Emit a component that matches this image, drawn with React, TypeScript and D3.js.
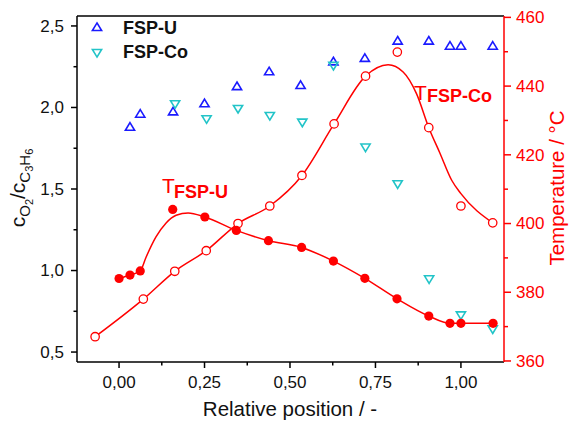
import React from "react";
import * as d3 from "d3";

// FSP-U ratio (blue, up triangles)
const fspUX = [0.032, 0.062, 0.158, 0.25, 0.345, 0.439, 0.531, 0.627, 0.719, 0.815, 0.906, 0.968, 1.0, 1.093];
const fspUY = [1.876, 1.956, 1.97, 2.02, 2.125, 2.216, 2.132, 2.277, 2.298, 2.404, 2.404, 2.373, 2.373, 2.373];
// FSP-Co ratio (cyan, down triangles)
const fspCoX = [0.164, 0.256, 0.348, 0.441, 0.536, 0.627, 0.721, 0.815, 0.907, 1.0, 1.093];
const fspCoY = [2.026, 1.934, 1.997, 1.954, 1.913, 2.261, 1.76, 1.535, 0.952, 0.731, 0.645];
// Temperature FSP-U (filled red circles)
const tUX = [0.0, 0.032, 0.062, 0.157, 0.251, 0.343, 0.437, 0.534, 0.627, 0.719, 0.813, 0.906, 0.968, 1.0, 1.094];
const tUT = [384.0, 385.0, 386.2, 404.1, 401.9, 398.0, 395.0, 393.05, 389.07, 384.04, 378.1, 373.08, 370.96, 370.96, 370.96];
// Fitted curve for FSP-U temperature
const tUCurveX = [0.0, 0.032, 0.062, 0.079, 0.108, 0.137, 0.167, 0.202, 0.251, 0.343, 0.437, 0.534, 0.627, 0.719, 0.813, 0.906, 0.968, 1.0, 1.094];
const tUCurveT = [384.0, 385.0, 386.2, 390.2, 396.1, 400.1, 402.4, 403.1, 401.9, 398.0, 395.0, 393.05, 389.07, 384.04, 378.1, 373.08, 370.96, 370.96, 370.96];
// Temperature FSP-Co (open red circles)
const tCoX = [-0.07, 0.071, 0.163, 0.255, 0.348, 0.441, 0.535, 0.629, 0.721, 0.814, 0.906, 1.0, 1.093];
const tCoT = [367.06, 378.0, 386.1, 392.1, 400.0, 405.1, 414.0, 429.0, 442.9, 449.9, 427.9, 405.1, 400.2];
// Fitted curve for FSP-Co temperature
const tCoCurveX = [-0.07, 0.071, 0.163, 0.255, 0.348, 0.441, 0.535, 0.629, 0.721, 0.787, 0.831, 0.87, 0.906, 0.939, 0.973, 1.0, 1.093];
const tCoCurveT = [367.06, 378.0, 386.1, 392.1, 400.0, 405.1, 414.0, 429.0, 442.9, 446.2, 444.1, 437.8, 427.9, 420.4, 412.6, 408.7, 400.2];

const xMajor = [0, 0.25, 0.5, 0.75, 1.0];
const xMinor = [0.125, 0.375, 0.625, 0.875];
const yLMajor = [0.5, 1.0, 1.5, 2.0, 2.5];
const yLMinor = [0.75, 1.25, 1.75, 2.25];
const yRMajor = [360, 380, 400, 420, 440, 460];
const yRMinor = [370, 390, 410, 430, 450];

const RED = "#ff0000";
const BLUE = "#1a1aff";
const CYAN = "#22c4c8";
const INK = "#111";
const FONT = "Arial, 'Liberation Sans', sans-serif";

const L = 77, R = 504, T = 16, B = 362;

const fmt = (v: number, d: number) => v.toFixed(d).replace(".", ",");

function triUp(cx: number, cy: number) {
  const hw = 4.6, h = 7.6;
  return `M${cx},${cy - (2 * h) / 3}L${cx + hw},${cy + h / 3}L${cx - hw},${cy + h / 3}Z`;
}
function triDown(cx: number, cy: number) {
  const hw = 4.6, h = 7.6;
  return `M${cx},${cy + (2 * h) / 3}L${cx + hw},${cy - h / 3}L${cx - hw},${cy - h / 3}Z`;
}

export default function App() {
  const x = d3.scaleLinear().domain([-0.123, 1.126]).range([L, R]);
  const yL = d3.scaleLinear().domain([0.439, 2.561]).range([B, T]);
  const yR = d3.scaleLinear().domain([359.7, 460.4]).range([B, T]);

  const line = d3
    .line<[number, number]>()
    .x((d) => x(d[0]))
    .y((d) => yR(d[1]))
    .curve(d3.curveMonotoneX);

  const tUPath = line(tUCurveX.map((v, i) => [v, tUCurveT[i]]) as [number, number][]) || "";
  const tCoPath = line(tCoCurveX.map((v, i) => [v, tCoCurveT[i]]) as [number, number][]) || "";

  return (
    <svg
      width={572}
      height={421}
      style={{ position: "absolute", left: 0, top: 0, background: "#fff" }}
      fontFamily={FONT}
    >
      <rect x={0} y={0} width={572} height={421} fill="#fff" />
      {/* curves */}
      <path d={tCoPath} fill="none" stroke={RED} strokeWidth={1.5} />
      <path d={tUPath} fill="none" stroke={RED} strokeWidth={1.5} />

      {/* FSP-U triangles */}
      {fspUX.map((v, i) => (
        <path key={"u" + i} d={triUp(x(v), yL(fspUY[i]))} fill="none" stroke={BLUE} strokeWidth={1.6} />
      ))}
      {fspCoX.map((v, i) => (
        <path key={"c" + i} d={triDown(x(v), yL(fspCoY[i]))} fill="none" stroke={CYAN} strokeWidth={1.6} />
      ))}

      {/* temperatures */}
      {tCoX.map((v, i) => (
        <circle key={"o" + i} cx={x(v)} cy={yR(tCoT[i])} r={4.2} fill="#fff" stroke={RED} strokeWidth={1.3} />
      ))}
      {tUX.map((v, i) => (
        <circle key={"f" + i} cx={x(v)} cy={yR(tUT[i])} r={4.6} fill={RED} />
      ))}

      {/* frame */}
      <line x1={L} x2={R} y1={T} y2={T} stroke="#000" strokeWidth={1.5} />
      <line x1={L} x2={L} y1={T} y2={B} stroke="#000" strokeWidth={1.5} />
      <line x1={L} x2={R} y1={B} y2={B} stroke="#000" strokeWidth={1.5} />
      <line x1={R} x2={R} y1={T} y2={B} stroke={RED} strokeWidth={1.5} />

      {/* bottom axis */}
      {xMajor.map((v) => (
        <g key={"xm" + v}>
          <line x1={x(v)} x2={x(v)} y1={B} y2={B + 6} stroke="#000" strokeWidth={1.5} />
          <text x={x(v)} y={388} textAnchor="middle" fontSize={17} fill={INK}>
            {fmt(v, 2)}
          </text>
        </g>
      ))}
      {xMinor.map((v) => (
        <line key={"xn" + v} x1={x(v)} x2={x(v)} y1={B} y2={B + 3.5} stroke="#000" strokeWidth={1.5} />
      ))}

      {/* left axis */}
      {yLMajor.map((v) => (
        <g key={"lm" + v}>
          <line x1={L - 6} x2={L} y1={yL(v)} y2={yL(v)} stroke="#000" strokeWidth={1.5} />
          <text x={L - 13} y={yL(v)} dy="0.35em" textAnchor="end" fontSize={17} fill={INK}>
            {fmt(v, 1)}
          </text>
        </g>
      ))}
      {yLMinor.map((v) => (
        <line key={"ln" + v} x1={L - 3.5} x2={L} y1={yL(v)} y2={yL(v)} stroke="#000" strokeWidth={1.5} />
      ))}

      {/* right axis */}
      {yRMajor.map((v) => (
        <g key={"rm" + v}>
          <line x1={R} x2={R + 7} y1={yR(v)} y2={yR(v)} stroke={RED} strokeWidth={1.5} />
          <text x={R + 12} y={yR(v)} dy="0.35em" textAnchor="start" fontSize={17} fill={RED}>
            {v}
          </text>
        </g>
      ))}
      {yRMinor.map((v) => (
        <line key={"rn" + v} x1={R} x2={R + 4} y1={yR(v)} y2={yR(v)} stroke={RED} strokeWidth={1.5} />
      ))}

      {/* axis titles */}
      <text x={290} y={416} textAnchor="middle" fontSize={20.5} fill={INK}>
        Relative position / -
      </text>
      <text transform="translate(564,188) rotate(-90)" textAnchor="middle" fontSize={20.5} fill={RED}>
        Temperature / °C
      </text>
      <text transform="translate(25,188) rotate(-90)" textAnchor="middle" fontSize={21} fill={INK}>
        c
        <tspan fontSize={15} dy={5}>O</tspan>
        <tspan fontSize={11} dy={3}>2</tspan>
        <tspan fontSize={21} dy={-8}>/c</tspan>
        <tspan fontSize={15} dy={5}>C</tspan>
        <tspan fontSize={11} dy={3}>3</tspan>
        <tspan fontSize={15} dy={-3}>H</tspan>
        <tspan fontSize={11} dy={3}>6</tspan>
      </text>

      {/* legend */}
      <path d={triUp(97, 28)} fill="none" stroke={BLUE} strokeWidth={1.6} />
      <text x={123} y={28} dy="0.36em" fontSize={18} fontWeight="bold" fill={INK}>
        FSP-U
      </text>
      <path d={triDown(97, 52)} fill="none" stroke={CYAN} strokeWidth={1.6} />
      <text x={123} y={52} dy="0.36em" fontSize={18} fontWeight="bold" fill={INK}>
        FSP-Co
      </text>

      {/* series labels */}
      <text x={162} y={193} fontSize={21} fill={RED}>
        T
      </text>
      <text x={174} y={198} fontSize={18} fontWeight="bold" fill={RED}>
        FSP-U
      </text>
      <text x={414} y={100} fontSize={21} fill={RED}>
        T
      </text>
      <text x={427} y={102} fontSize={18} fontWeight="bold" fill={RED}>
        FSP-Co
      </text>
    </svg>
  );
}
